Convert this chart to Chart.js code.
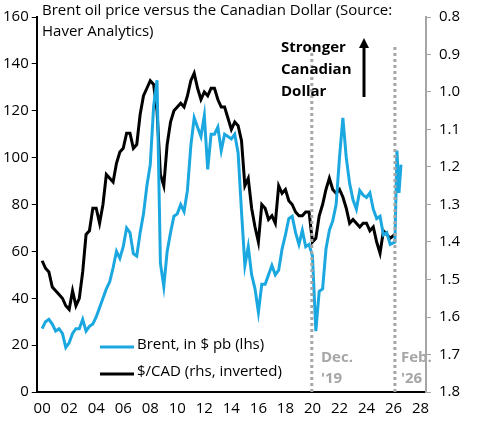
<!DOCTYPE html>
<html><head><meta charset="utf-8">
<script src="https://cdn.jsdelivr.net/npm/chart.js@4"></script>
<style>body{margin:0;background:#fff}#wrap{width:482px;height:427px}</style>
</head><body><div id="wrap"><canvas id="c"></canvas></div>
<script>
// quarterly points, x = years since 2000
var brentX = [];
for (var i = 0; i < 104; i++) brentX.push(i / 4);
brentX.push(26.1, 26.25, 26.4, 26.55);
var brent = [27,30,31,29, 26,27,25,19, 21,25,27,27, 31,26,28,29, 32,36,40,44,
  47,53,60,57, 62,70,68,59, 58,68,76,88, 97,122,133,55, 45,60,68,75, 76,80,77,86,
  105,117,113,109, 118,95,110,110, 113,103,110,109, 108,110,102,77, 54,62,50,44,
  34,46,46,50, 54,50,52,61, 67,74,75,68, 63,69,62,63, 58,26,43,44, 61,69,73,80,
  100,117,100,89, 82,78,86,84, 83,85,78,74, 75,67,68,63, 64,103,85,97];
var cadX = brentX.slice(0, 105);
var cad = [1.45,1.47,1.48,1.52, 1.53,1.54,1.55,1.57, 1.58,1.53,1.57,1.55, 1.48,1.38,1.37,1.31,
  1.31,1.35,1.30,1.22, 1.23,1.24,1.19,1.16, 1.15,1.11,1.11,1.15, 1.14,1.06,1.01,0.99,
  0.97,0.98,1.05,1.22, 1.25,1.14,1.08,1.05, 1.04,1.03,1.04,1.01, 0.97,0.95,0.99,1.02,
  1.00,1.01,0.99,0.99, 1.02,1.04,1.04,1.07, 1.10,1.08,1.09,1.13, 1.25,1.23,1.31,1.36,
  1.40,1.30,1.31,1.34, 1.33,1.35,1.25,1.27, 1.26,1.29,1.30,1.32, 1.33,1.33,1.32,1.32,
  1.40,1.39,1.33,1.30, 1.26,1.23,1.26,1.27, 1.26,1.28,1.31,1.35, 1.34,1.35,1.36,1.35,
  1.35,1.37,1.36,1.40, 1.43,1.37,1.38,1.39, 1.38];
var xTicks = ['00','02','04','06','08','10','12','14','16','18','20','22','24','26','28'];

function pts(xs, ys) {
  return ys.map(function (v, i) { return { x: xs[i], y: v }; });
}

var notes = {
  id: 'notes',
  afterDatasetsDraw: function (chart) {
    var ctx = chart.ctx, x = chart.scales.x, y = chart.scales.y;
    ctx.save();
    ctx.strokeStyle = '#a6a6a6'; ctx.lineWidth = 3; ctx.setLineDash([3, 3]);
    [19.95, 26.1].forEach(function (v) {
      var px = x.getPixelForValue(v);
      ctx.beginPath(); ctx.moveTo(px, y.top + 30); ctx.lineTo(px, y.bottom); ctx.stroke();
    });
    ctx.setLineDash([]);
    ctx.fillStyle = '#000'; ctx.textBaseline = 'top';
    ctx.font = '15px "Open Sans"';
    ctx.fillText('Brent oil price versus the Canadian Dollar (Source:', 42, 3);
    ctx.fillText('Haver Analytics)', 42, 24);
    ctx.font = 'bold 15px "Open Sans"';
    ctx.fillText('Stronger', 281, 40);
    ctx.fillText('Canadian', 281, 62);
    ctx.fillText('Dollar', 281, 84);
    ctx.lineWidth = 3; ctx.strokeStyle = '#000';
    ctx.beginPath(); ctx.moveTo(364, 97); ctx.lineTo(364, 46); ctx.stroke();
    ctx.beginPath(); ctx.moveTo(359, 48); ctx.lineTo(364, 38); ctx.lineTo(369, 48); ctx.fill();
    ctx.fillStyle = '#a6a6a6';
    ctx.fillText('Dec.', 321, 350); ctx.fillText("'19", 321, 371);
    ctx.fillText('Feb.', 401, 350); ctx.fillText("'26", 401, 371);
    ctx.font = '15px "Open Sans"'; ctx.fillStyle = '#000';
    ctx.lineWidth = 3;
    ctx.strokeStyle = '#1ba8e0';
    ctx.beginPath(); ctx.moveTo(100, 347); ctx.lineTo(134, 347); ctx.stroke();
    ctx.fillText('Brent, in $ pb (lhs)', 137, 337);
    ctx.strokeStyle = '#000';
    ctx.beginPath(); ctx.moveTo(100, 374); ctx.lineTo(134, 374); ctx.stroke();
    ctx.fillText('$/CAD (rhs, inverted)', 137, 364);
    ctx.restore();
  }
};

new Chart(document.getElementById('c'), {
  type: 'line',
  data: {
    datasets: [
      { label: 'Brent', data: pts(brentX, brent), yAxisID: 'y', borderColor: '#1ba8e0', borderWidth: 3, pointRadius: 0, tension: 0 },
      { label: 'CAD', data: pts(cadX, cad), yAxisID: 'y2', borderColor: '#000', borderWidth: 3, pointRadius: 0, tension: 0 }
    ]
  },
  options: {
    responsive: true, maintainAspectRatio: false, animation: false,
    layout: { padding: { top: 12, right: 8, left: 0, bottom: 6 } },
    plugins: { legend: { display: false }, tooltip: { enabled: false } },
    scales: {
      x: {
        type: 'linear', min: -0.4, max: 28.4,
        afterBuildTicks: function (s) { s.ticks = xTicks.map(function (t, i) { return { value: i * 2 }; }); },
        ticks: { color: '#000', font: { size: 15, family: 'Open Sans' }, callback: function (v) { return xTicks[v / 2]; }, maxRotation: 0 },
        grid: { display: false, drawTicks: true, tickLength: 5, color: '#000' },
        border: { color: '#000', width: 2 }
      },
      y: {
        min: 0, max: 160,
        ticks: { stepSize: 20, color: '#000', font: { size: 15, family: 'Open Sans' } },
        grid: { drawOnChartArea: false, tickLength: 5, color: '#000' },
        border: { color: '#000', width: 2 }
      },
      y2: {
        position: 'right', reverse: true, min: 0.8, max: 1.8,
        afterFit: function (s) { s.width = 48; },
        ticks: { stepSize: 0.1, color: '#000', padding: 8, font: { size: 15, family: 'Open Sans' }, callback: function (v) { return v.toFixed(1); } },
        grid: { drawOnChartArea: false, tickLength: 5, color: '#a6a6a6' },
        border: { color: '#a6a6a6', width: 2 }
      }
    }
  },
  plugins: [notes]
});
</script></body></html>
